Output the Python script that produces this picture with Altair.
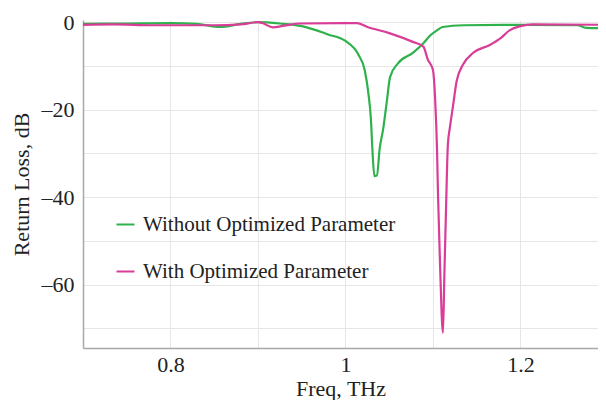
import altair as alt
import pandas as pd

# Without Optimized Parameter (green)
freq_without = [0.70, 0.75, 0.80, 0.83, 0.857, 0.88, 0.90, 0.925, 0.95, 0.98, 1.00, 1.015,
                1.022, 1.026, 1.029, 1.031, 1.033, 1.036, 1.039, 1.043, 1.047, 1.051, 1.06,
                1.077, 1.089, 1.097, 1.105, 1.111, 1.135, 1.20, 1.265, 1.275, 1.30]
rl_without = [-0.4, -0.3, -0.2, -0.4, -1.1, -0.4, 0.0, -0.3, -0.9, -2.8, -4.3, -7.5,
              -11, -16, -22, -30, -35.2, -35.0, -29, -24.5, -18.5, -12.5, -9.4,
              -7.0, -4.8, -3.0, -1.8, -1.1, -0.7, -0.6, -0.7, -1.3, -1.4]

# With Optimized Parameter (magenta)
freq_with = [0.70, 0.735, 0.78, 0.85, 0.88, 0.90, 0.905, 0.917, 0.93, 0.948, 1.013, 1.025,
             1.05, 1.077, 1.089, 1.094, 1.100, 1.1025, 1.1046, 1.1057, 1.108, 1.1114,
             1.113, 1.115, 1.117, 1.1194, 1.123, 1.127, 1.134, 1.146, 1.165, 1.177,
             1.188, 1.20, 1.214, 1.30]
rl_with = [-0.6, -0.5, -0.7, -0.7, -0.5, 0.0, -0.2, -1.2, -0.8, -0.3, -0.2, -1.1,
           -2.5, -4.5, -5.6, -8.5, -11, -17.8, -29, -39, -55, -71,
           -58, -42, -28, -24, -19, -13.5, -9.8, -7.0, -5.2, -3.7,
           -1.8, -0.9, -0.5, -0.6]

series_names = ["Without Optimized Parameter", "With Optimized Parameter"]
series_colors = ["#2fb24c", "#d93d98"]

df = pd.concat([
    pd.DataFrame({"freq": freq_without, "rl": rl_without, "series": series_names[0], "order": range(len(freq_without))}),
    pd.DataFrame({"freq": freq_with, "rl": rl_with, "series": series_names[1], "order": range(len(freq_with))}),
])

FONT = "Liberation Serif"

chart = alt.Chart(df).mark_line(strokeWidth=2.2, interpolate="monotone", clip=True).encode(
    x=alt.X("freq:Q", scale=alt.Scale(domain=[0.7, 1.2886], nice=False, zero=False),
            axis=alt.Axis(title="Freq, THz", values=[0.8, 0.9, 1.0, 1.1, 1.2],
                          labelExpr="round(datum.value*10) % 2 == 0 ? format(datum.value, '~g') : ''",
                          ticks=False, tickSize=0, labelPadding=6, titlePadding=3)),
    y=alt.Y("rl:Q", scale=alt.Scale(domain=[-74.5, 0.5], nice=False),
            axis=alt.Axis(title="Return Loss, dB", values=[0, -10, -20, -30, -40, -50, -60, -70],
                          labelExpr="datum.value % 20 == 0 ? (datum.value < 0 ? '\u2013' + abs(datum.value) : '0') : ''",
                          ticks=False, tickSize=0, labelPadding=9, titlePadding=8)),
    color=alt.Color("series:N", scale=alt.Scale(domain=series_names, range=series_colors),
                    legend=alt.Legend(title=None, orient="none", legendX=32, legendY=194,
                                      symbolType="stroke", symbolSize=324, symbolStrokeWidth=2,
                                      labelFont=FONT, labelFontSize=21, labelColor="#222222",
                                      labelOffset=7, rowPadding=25, padding=0, labelLimit=400)),
    order="order:Q",
).properties(
    width=515, height=328,
    autosize=alt.AutoSizeParams(type="none"),
    padding={"left": 75, "top": 12, "right": 0, "bottom": 52},
).configure_view(
    stroke=None
).configure_axis(
    labelFont=FONT, titleFont=FONT, labelFontSize=22, titleFontSize=22,
    labelColor="#222222", titleColor="#222222", titleFontWeight="normal",
    gridColor="#e6e6e6", gridWidth=1, domainColor="#a8a8a8", domainWidth=1.5,
)

chart.save("out.html", embed_options={"renderer": "svg", "actions": False})
